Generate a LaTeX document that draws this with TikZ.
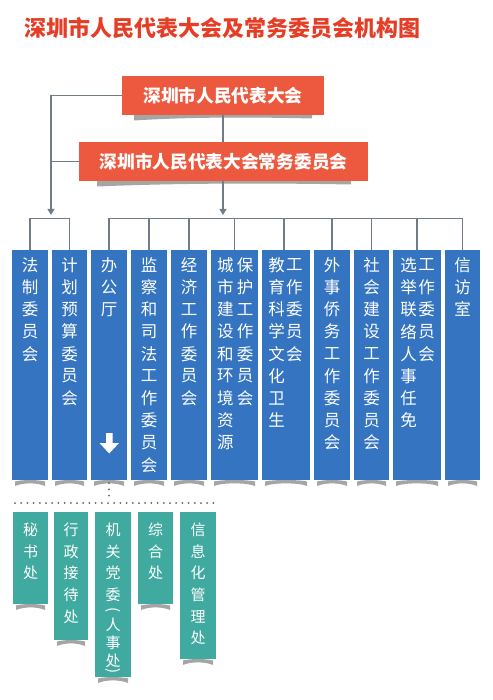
\documentclass[tikz,border=0pt]{standalone}
\usepackage{fontspec}
\newfontfamily\cjk{Noto Sans CJK SC}
\usetikzlibrary{arrows.meta,calc}
\definecolor{titlered}{RGB}{230,62,38}
\definecolor{boxred}{RGB}{236,89,63}
\definecolor{boxblue}{RGB}{52,116,193}
\definecolor{boxteal}{RGB}{64,170,160}
\definecolor{linec}{RGB}{112,124,136}
\definecolor{shd}{RGB}{165,165,165}
\definecolor{dotc}{RGB}{95,95,95}
% box: style, name, x1, x2, y1, y2
\newcommand\mkbox[6]{\node[#1, minimum width={(#4-#3)*1pt}, minimum height={(#6-#5)*1pt}] (#2) at ({(#3+#4)/2},{(#5+#6)/2}) {};}
% ribbon shadow: x1, x2, y
\newcommand\rib[3]{\fill[shd] (#1,#3+1.5) .. controls (#1+8,#3-0.5) and (#2-8,#3-0.5) .. (#2,#3+1.5) -- (#2,#3+6) .. controls (#2-8,#3+2.5) and (#1+8,#3+2.5) .. (#1,#3+6) -- cycle;}
% vertical text: style, name prefix, x, y0, pitch, list
\newcommand\vtext[6]{\foreach \c [count=\i from 0] in {#6} {\node[#1] (#2\i) at (#3,{#4+\i*#5}) {\c};}}
\begin{document}
\begin{tikzpicture}[x=1pt,y=-1pt,
  redbox/.style={fill=boxred, inner sep=0, text=white, font=\cjk\bfseries\fontsize{17.7}{20}\selectfont},
  bluebox/.style={fill=boxblue, inner sep=0},
  tealbox/.style={fill=boxteal, inner sep=0},
  vb/.style={text=white, inner sep=0, font=\cjk\fontsize{16.5}{18}\selectfont},
  vs/.style={text=white, inner sep=0, font=\cjk\fontsize{15}{17}\selectfont},
  conn/.style={draw=linec, line width=1.1pt},
  arr/.style={conn, -{Triangle[length=6pt,width=7pt]}},
  dotl/.style={draw=dotc, line width=2pt, line cap=round, dash pattern=on 0pt off 6.2pt}]
\useasboundingbox (0,0) rectangle (492,700);

% title
\node[text=titlered, inner sep=0, font=\cjk\bfseries\fontsize{22}{25}\selectfont] (title) at (222,28.5) {深圳市人民代表大会及常务委员会机构图};

% red boxes
\fill[shd] (134,115) -- (312,115) -- (312,118.5) .. controls (250,117) and (190,117) .. (134,120.5) -- cycle;
\fill[shd] (97,181) -- (351,181) -- (351,184.5) .. controls (270,183) and (180,183) .. (97,186.5) -- cycle;
\node[redbox, minimum width=202pt, minimum height=39pt] (r1) at (223,95.5) {深圳市人民代表大会};
\node[redbox, minimum width=289pt, minimum height=39pt] (r2) at (223.5,161.5) {深圳市人民代表大会常务委员会};

% connectors top
\coordinate (la) at (51,215);
\coordinate (ra) at (223,215);
\draw[arr] (r1.west) -| (la);
\draw[conn] (r2.west) -- (r2.west -| la);
\draw[conn] (r1.south -| ra) -- (r2.north -| ra);
\draw[arr] (r2.south -| ra) -- (ra);

% blue boxes
\mkbox{bluebox}{b1}{12}{48}{250}{480}
\mkbox{bluebox}{b2}{52}{87}{250}{480}
\mkbox{bluebox}{b3}{91}{127}{250}{480}
\mkbox{bluebox}{b4}{131}{167}{250}{480}
\mkbox{bluebox}{b5}{171}{207}{250}{480}
\mkbox{bluebox}{b6}{211}{258}{250}{480}
\mkbox{bluebox}{b7}{262}{310}{250}{480}
\mkbox{bluebox}{b8}{314}{350}{250}{480}
\mkbox{bluebox}{b9}{354}{389}{250}{480}
\mkbox{bluebox}{b10}{393}{441}{250}{480}
\mkbox{bluebox}{b11}{445}{480}{250}{480}
\rib{15}{45}{480}
\rib{55}{84}{480}
\rib{94}{124}{480}
\rib{134}{164}{480}
\rib{174}{204}{480}
\rib{214}{255}{480}
\rib{265}{307}{480}
\rib{317}{347}{480}
\rib{357}{386}{480}
\rib{396}{438}{480}
\rib{448}{477}{480}

% brackets
\draw[conn] (b1.north) -- ++(0,-31) -| (b2.north);
\draw[conn] (b3.north) -- ++(0,-31) -| (b11.north);
\foreach \b in {b4,b5,b6,b8,b9,b10} {\draw[conn] (\b.north) -- ++(0,-31);}
\draw[conn] (284,250) -- (284,219);

% blue texts
\vtext{vb}{tA}{30}{265}{22.2}{法,制,委,员,会}
\vtext{vb}{tB}{69.5}{265}{22.2}{计,划,预,算,委,员,会}
\vtext{vb}{tC}{109}{265}{22.2}{办,公,厅}
\vtext{vb}{tD}{149}{265}{22.2}{监,察,和,司,法,工,作,委,员,会}
\vtext{vb}{tE}{189}{265}{22.2}{经,济,工,作,委,员,会}
\vtext{vb}{tF}{225.3}{265}{22.2}{城,市,建,设,和,环,境,资,源}
\vtext{vb}{tG}{245}{265}{22.2}{保,护,工,作,委,员,会}
\vtext{vb}{tH}{276.7}{265}{22.2}{教,育,科,学,文,化,卫,生}
\vtext{vb}{tI}{294.3}{265}{22.2}{工,作,委,员,会}
\vtext{vb}{tJ}{332}{265}{22.2}{外,事,侨,务,工,作,委,员,会}
\vtext{vb}{tK}{371.5}{265}{22.2}{社,会,建,设,工,作,委,员,会}
\vtext{vb}{tL}{408.7}{265}{22.2}{选,举,联,络,人,事,任,免}
\vtext{vb}{tM}{426.7}{265}{22.2}{工,作,委,员,会}
\vtext{vb}{tN}{462.5}{265}{22.2}{信,访,室}

% down arrow in b3
\fill[white] (106,433) -- (112.5,433) -- (112.5,443) -- (119,443) -- (109.25,453.5) -- (99.5,443) -- (106,443) -- cycle;

% dotted lines
\coordinate (dl) at (15,503);
\coordinate (dr) at (217,503);
\draw[dotl] ($(b3.south)+(0,3)$) -- ($(b3.south)+(0,15.5)$);
\draw[dotl] (dl) -- (dr);

% teal boxes
\mkbox{tealbox}{s1}{13}{48}{512}{604}
\mkbox{tealbox}{s2}{54}{88}{512}{640}
\mkbox{tealbox}{s3}{95}{131}{512}{677}
\mkbox{tealbox}{s4}{138}{173}{512}{604}
\mkbox{tealbox}{s5}{180}{216}{512}{659}
\rib{16}{45}{604}
\rib{57}{85}{640}
\rib{98}{128}{677}
\rib{141}{170}{604}
\rib{183}{213}{659}

\vtext{vs}{uA}{30.5}{530}{21.6}{秘,书,处}
\vtext{vs}{uB}{71}{530}{21.6}{行,政,接,待,处}
\vtext{vs}{uC}{113}{530}{21.6}{机,关,党,委}
\node[vs, rotate=-90] (uCp1) at (113,610) {(};
\node[vs] (uC5) at (113,625) {人};
\node[vs] (uC6) at (113,643) {事};
\node[vs] (uC7) at (113,661) {处};
\node[vs, rotate=-90] (uCp2) at (113,671) {)};
\vtext{vs}{uD}{155.5}{530}{21.6}{综,合,处}
\vtext{vs}{uE}{198}{530}{21.6}{信,息,化,管,理,处}
\end{tikzpicture}
\end{document}
